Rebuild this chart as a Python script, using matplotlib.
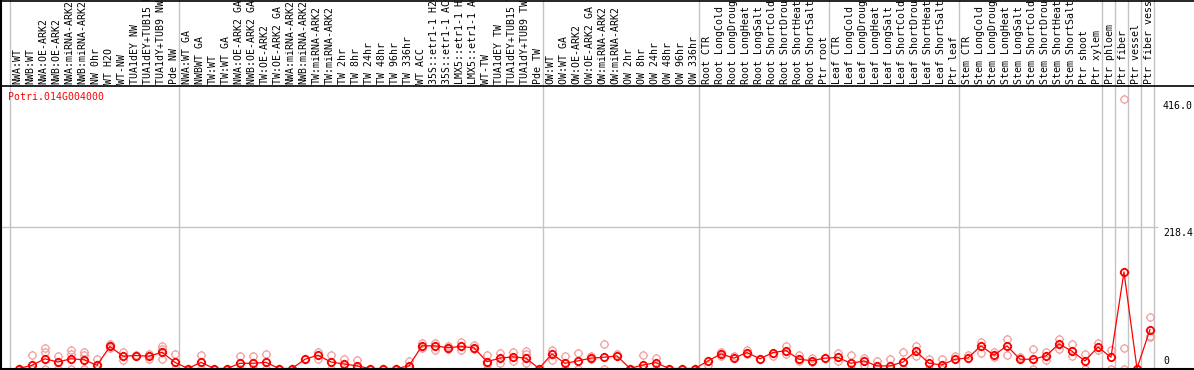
import numpy as np
import matplotlib
matplotlib.use("Agg")
import matplotlib.pyplot as plt
import matplotlib.path as mpath
import matplotlib.transforms as mtransforms
from matplotlib.lines import Line2D

gene = "Potri.014G004000"

samples = [
    "NWA:WT", "NWB:WT", "NWA:OE-ARK2", "NWB:OE-ARK2", "NWA:miRNA-ARK2", "NWB:miRNA-ARK2",
    "NW 0hr", "WT H2O", "WT-NW", "TUA1dEY NW", "TUA1dEY+TUB15 NW", "TUA1dY+TUB9 NW", "Pde NW",
    "NWA:WT GA", "NWBWT GA", "TW:WT", "TW:WT GA", "NWA:OE-ARK2 GA", "NWB:OE-ARK2 GA",
    "TW:OE-ARK2", "TW:OE-ARK2 GA", "NWA:miRNA-ARK2", "NWB:miRNA-ARK2", "TW:miRNA-ARK2",
    "TW:miRNA-ARK2", "TW 2hr", "TW 8hr", "TW 24hr", "TW 48hr", "TW 96hr", "TW 336hr",
    "WT ACC", "35S::etr1-1 H2O", "35S::etr1-1 ACC", "LMX5::etr1-1 H2O", "LMX5::etr1-1 ACC",
    "WT-TW", "TUA1dEY TW", "TUA1dEY+TUB15 TW", "TUA1dY+TUB9 TW", "Pde TW",
    "OW:WT", "OW:WT GA", "OW:OE-ARK2", "OW:OE-ARK2 GA", "OW:miRNA-ARK2", "OW:miRNA-ARK2",
    "OW 2hr", "OW 8hr", "OW 24hr", "OW 48hr", "OW 96hr", "OW 336hr",
    "Root CTR", "Root LongCold", "Root LongDrought", "Root LongHeat", "Root LongSalt",
    "Root ShortCold", "Root ShortDrought", "Root ShortHeat", "Root ShortSalt", "Ptr root",
    "Leaf CTR", "Leaf LongCold", "Leaf LongDrought", "Leaf LongHeat", "Leaf LongSalt",
    "Leaf ShortCold", "Leaf ShortDrought", "Leaf ShortHeat", "Leaf ShortSalt", "Ptr leaf",
    "Stem CTR", "Stem LongCold", "Stem LongDrought", "Stem LongHeat", "Stem LongSalt",
    "Stem ShortCold", "Stem ShortDrought", "Stem ShortHeat", "Stem ShortSalt", "Ptr shoot",
    "Ptr xylem", "Ptr phloem", "Ptr fiber", "Ptr vessel", "Ptr fiber vessel",
]

# where a new tissue block starts
group_edges = [0, 13, 41, 53, 63, 73, 84, 85, 86, 87, 88]

means = [
    0, 5, 15, 10, 15, 13.5, 5, 34, 19, 20, 19, 25, 9.5,
    0, 9.5, 0, 0, 8, 8, 9.5, 0, 0, 14.3, 20.5, 10, 7, 4, 0, 0, 0, 4,
    35, 35, 32, 34, 32, 10.5, 16, 18, 16, 0,
    22.5, 8, 11.7, 16, 17.4, 19.4, 0, 5.5, 9, 0, 0, 0,
    11.7, 22.5, 16, 24.6, 15, 24.6, 27.7, 14.3, 12, 16,
    17, 8, 11.7, 4, 4, 10, 26.7, 8, 5.5, 14.3,
    16.3, 35, 20.5, 35, 14.3, 14.3, 19.5, 38, 26.7, 11.7, 33, 17.4,
    149, 0, 60,
]

replicates = [
    [0, 0], [21, 0, 0], [31, 25, 0], [20, 0], [29, 22, 0], [25, 21, 0], [15, 0],
    [38, 31], [26, 13], [21, 19], [23, 15], [34, 30, 15], [22, 0],
    [0], [21, 0], [0], [0], [19.5, 0], [19.5, 0], [22, 0], [0], [0], [14],
    [25.7, 14], [21.5, 0], [15, 0], [13, 0], [0], [0], [0], [11.7, 0],
    [39, 31], [40, 29], [34, 30], [41, 29], [37, 30], [21, 7, 0], [23.5, 8.5],
    [25, 12], [27, 23, 8.5], [0],
    [29, 13], [19.5, 0], [24.6, 0], [19.5, 14], [38, 0], [23], [0], [21, 0],
    [16, 0], [0], [0], [0],
    [5.5], [26, 19.5], [19.5], [28, 23], [15], [20], [34, 23], [21, 12], [16, 10], [16],
    [24.6, 11], [21, 0], [16, 5.5], [11.7, 0], [14.3, 0], [25.7, 0], [35, 19.5],
    [14.3, 0], [14.3, 0], [19.5],
    [21], [41, 24.6], [25.7, 17.4], [45, 21], [17.4], [30, 0], [13, 25.7],
    [45, 30], [38, 19.5], [22.5, 0], [40, 29], [29, 0],
    [416, 31, 0], [0], [80, 49.5, 48],
]

W, H = 1194, 370
fig = plt.figure(figsize=(W / 100, H / 100), dpi=100)
fig.patch.set_facecolor("white")

mono = "DejaVu Sans Mono"
fs = 7.1

# plot area in pixels
left, right, top, bottom = 10, 1154, 85.5, 368.5
ax = fig.add_axes([left / W, (H - bottom) / H, (right - left) / W, (bottom - top) / H])
ax.set_axis_off()

n = len(samples)
xpos = np.arange(n) + 0.69
top_val = max(max(r) for r in replicates)
ymax = round(top_val * 1.05, 1)
ax.set_xlim(0, n)
ax.set_ylim(0, ymax)

# custom marker: circle with four small ticks
circle = mpath.Path.unit_circle()
ticks = mpath.Path(
    [(0, 1), (0, 1.3), (0, -1), (0, -1.3), (1, 0), (1.3, 0), (-1, 0), (-1.3, 0)],
    [mpath.Path.MOVETO, mpath.Path.LINETO] * 4,
)
ring = mpath.Path.make_compound_path(circle, ticks)
msize = 6.7

# separators and grid
head_frac = bottom / (bottom - top)
for e in group_edges:
    ax.axvline(e, ymin=-0.01, ymax=head_frac, color="#c4c4c4", lw=1, clip_on=False, zorder=0)
ax.axhline(ymax / 2, xmin=-left / (right - left), xmax=1 + 3 / (right - left),
           color="#c4c4c4", lw=1, clip_on=False, zorder=0)

# replicate circles
for x, reps in zip(xpos, replicates):
    ax.plot([x] * len(reps), reps, linestyle="none", marker=ring, markersize=msize,
            markerfacecolor="none", markeredgecolor="#f0a0a0", markeredgewidth=0.9,
            clip_on=False, zorder=2)

# means
ax.plot(xpos, means, color="red", lw=0.9, zorder=3, clip_on=False)
ax.plot(xpos, means, linestyle="none", marker=ring, markersize=msize,
        markerfacecolor="none", markeredgecolor="red", markeredgewidth=1.3,
        clip_on=False, zorder=4)

# sample labels in the header
lab_tr = mtransforms.offset_copy(ax.get_xaxis_transform(), fig=fig, x=0, y=1.8, units="dots")
for x, s in zip(xpos, samples):
    ax.text(x - 0.1, 1, s, transform=lab_tr, rotation=90, ha="center", va="bottom",
            fontsize=fs, family=mono, color="black")

# value labels on the right
val_tr = mtransforms.blended_transform_factory(fig.transFigure, ax.transData)
tx = 1163 / W
ax.text(tx, top_val, f"{top_val:.1f}", transform=mtransforms.offset_copy(val_tr, fig=fig, y=-2, units="dots"),
        ha="left", va="top", fontsize=fs, family=mono)
ax.text(tx, ymax / 2, f"{ymax / 2:.1f}", transform=mtransforms.offset_copy(val_tr, fig=fig, y=-1, units="dots"),
        ha="left", va="top", fontsize=fs, family=mono)
ax.text(tx, 0, "0", transform=mtransforms.offset_copy(val_tr, fig=fig, y=3, units="dots"),
        ha="left", va="bottom", fontsize=fs, family=mono)

fig.text(8 / W, (H - 92) / H, gene, color="red", ha="left", va="top", fontsize=fs, family=mono)

# frame lines
fig.add_artist(Line2D([0, 1], [(H - 85.5) / H] * 2, color="black", lw=1.2))
fig.add_artist(Line2D([0, 1], [(H - 368.8) / H] * 2, color="black", lw=1.5))
fig.add_artist(Line2D([0, 1], [1 - 0.5 / H] * 2, color="black", lw=1.2))
fig.add_artist(Line2D([1.2 / W] * 2, [0, 1], color="black", lw=1.5))

fig.savefig("out.png", dpi=100)
